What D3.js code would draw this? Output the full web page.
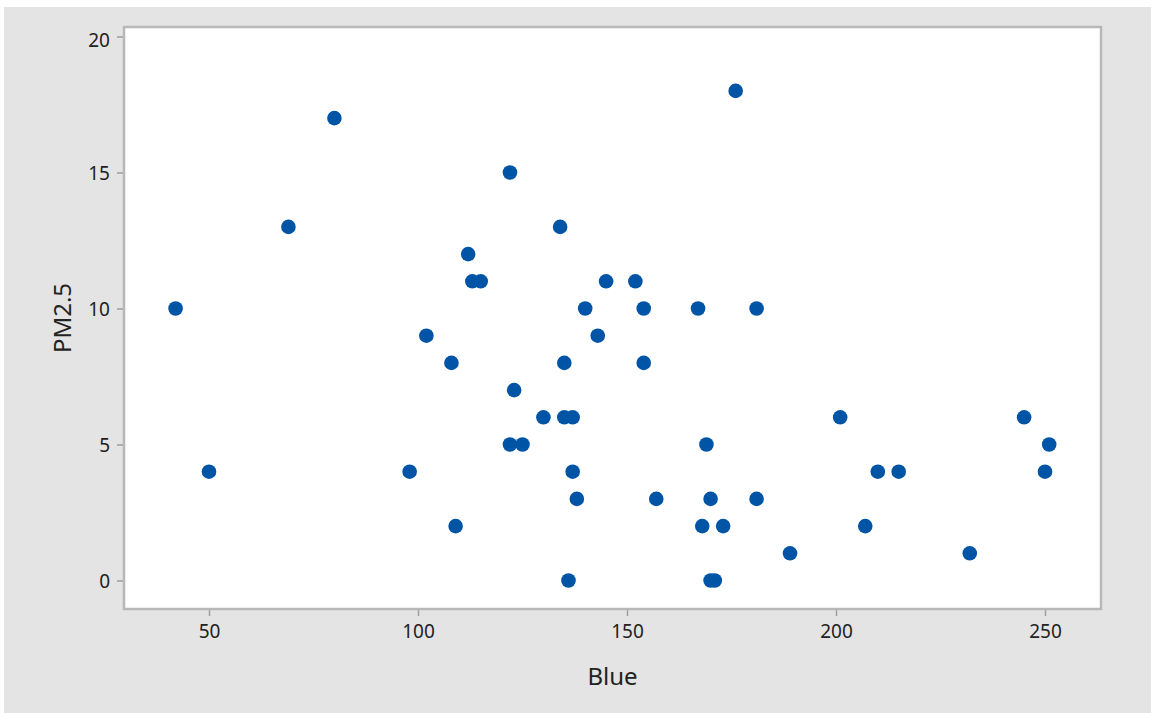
<!DOCTYPE html>
<html>
<head>
<meta charset="utf-8">
<script src="https://cdn.jsdelivr.net/npm/d3@7"></script>
<style>
  html, body { margin: 0; padding: 0; background: #ffffff; }
  svg { display: block; }
  text { font-family: "Noto Sans", "Open Sans", sans-serif; fill: #222222; }
</style>
</head>
<body>
<svg id="chart" width="1151" height="713"></svg>
<script>
// ---- data ----
const blue = [42, 50, 69, 80, 98, 102, 108, 109, 112, 113, 115, 122, 122, 123, 125, 130, 134, 135, 135, 137, 136, 137, 138, 140, 143, 145, 152, 154, 154, 157, 167, 168, 169, 170, 170, 171, 173, 176, 181, 181, 189, 201, 207, 210, 215, 232, 245, 250, 251];
const pm25 = [10, 4, 13, 17, 4, 9, 8, 2, 12, 11, 11, 15, 5, 7, 5, 6, 13, 8, 6, 6, 0, 4, 3, 10, 9, 11, 11, 10, 8, 3, 10, 2, 5, 3, 0, 0, 2, 18, 10, 3, 1, 6, 2, 4, 4, 1, 6, 4, 5];
const xTicks = [50, 100, 150, 200, 250];
const yTicks = [0, 5, 10, 15, 20];
const xTitle = "Blue";
const yTitle = "PM2.5";

const W = 1151, H = 713;
const plot = { left: 124, top: 27, right: 1101, bottom: 609 };

const svg = d3.select("#chart");

// outer gray background
svg.append("rect").attr("x", 4).attr("y", 7).attr("width", W - 4).attr("height", H - 7).attr("fill", "#e4e4e4");

// plot area
svg.append("rect")
  .attr("x", plot.left).attr("y", plot.top)
  .attr("width", plot.right - plot.left).attr("height", plot.bottom - plot.top)
  .attr("fill", "#ffffff").attr("stroke", "#b8b8b8").attr("stroke-width", 2.5);

const x = d3.scaleLinear().domain([50, 250]).range([209, 1045]);
const y = d3.scaleLinear().domain([0, 20]).range([580.5, 36.5]);

// x axis
const xAxis = svg.append("g").attr("transform", `translate(0,${plot.bottom + 1})`)
  .call(d3.axisBottom(x).tickValues(xTicks).tickSize(6).tickPadding(9).tickFormat(d3.format("d")));
xAxis.select(".domain").remove();
xAxis.selectAll(".tick line").attr("stroke", "#a0a0a0").attr("stroke-width", 1.5);
xAxis.selectAll(".tick text").attr("font-size", 19).attr("fill", "#222222")
  .style("font-family", '"Noto Sans", sans-serif');

// y axis
const yAxis = svg.append("g").attr("transform", `translate(${plot.left - 1},0)`)
  .call(d3.axisLeft(y).tickValues(yTicks).tickSize(6).tickPadding(7).tickFormat(d3.format("d")));
yAxis.select(".domain").remove();
yAxis.selectAll(".tick line").attr("stroke", "#a0a0a0").attr("stroke-width", 1.5);
yAxis.selectAll(".tick text").attr("font-size", 19).attr("fill", "#222222")
  .style("font-family", '"Noto Sans", sans-serif')
  .attr("dy", d => d === 20 ? "0.55em" : "0.36em");

// points
svg.append("g").selectAll("circle")
  .data(blue.map((b, i) => ({ b, p: pm25[i] })))
  .join("circle")
  .attr("cx", d => x(d.b))
  .attr("cy", d => y(d.p))
  .attr("r", 7.3)
  .attr("fill", "#0054a6");

// axis titles
svg.append("text")
  .attr("x", (plot.left + plot.right) / 2).attr("y", 685)
  .attr("text-anchor", "middle").attr("font-size", 24).attr("fill", "#1e1e1e")
  .text(xTitle);

svg.append("text")
  .attr("transform", `translate(71,${(plot.top + plot.bottom) / 2}) rotate(-90)`)
  .attr("text-anchor", "middle").attr("font-size", 24).attr("fill", "#1e1e1e")
  .text(yTitle);
</script>
</body>
</html>
